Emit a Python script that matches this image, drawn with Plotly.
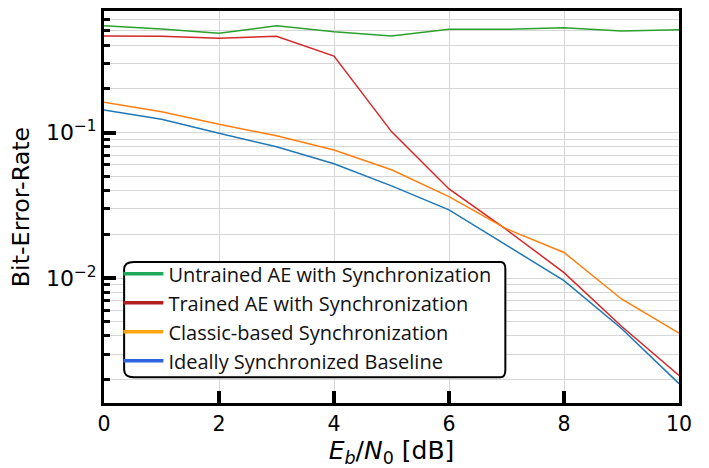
import plotly.graph_objects as go

ebn0 = [0, 1, 2, 3, 4, 5, 6, 7, 8, 9, 10]
untrained = [0.543, 0.515, 0.482, 0.543, 0.494, 0.461, 0.513, 0.513, 0.526, 0.500, 0.510]
trained = [0.461, 0.460, 0.445, 0.460, 0.336, 0.1016, 0.041, 0.0215, 0.0109, 0.00466, 0.00214]
classic = [0.162, 0.139, 0.114, 0.095, 0.076, 0.0555, 0.0363, 0.0218, 0.0150, 0.00718, 0.00419]
ideal = [0.143, 0.1236, 0.099, 0.080, 0.061, 0.043, 0.0294, 0.0168, 0.0096, 0.0045, 0.00188]

names = ["Untrained AE with Synchronization", "Trained AE with Synchronization",
         "Classic-based Synchronization", "Ideally Synchronized Baseline"]
series = [untrained, trained, classic, ideal]
line_colors = ["#2ca02c", "#d62728", "#ff7f0e", "#1f77b4"]
legend_colors = ["#1ea85a", "#b01e1e", "#ffa510", "#2f63e0"]

y_major = [0.1, 0.01]
y_major_text = ["10<sup>\u22121</sup>", "10<sup>\u22122</sup>"]
y_minor = [m * d for d in (0.001, 0.01, 0.1) for m in range(2, 10)]
x_ticks = [0, 2, 4, 6, 8, 10]

fig = go.Figure()
for name, ys, c in zip(names, series, line_colors):
    fig.add_trace(go.Scatter(x=ebn0, y=ys, mode="lines", line=dict(color=c, width=1.5),
                             showlegend=False, name=name))
for name, c in zip(names, legend_colors):
    fig.add_trace(go.Scatter(x=[None], y=[None], mode="lines", line=dict(color=c, width=3.5),
                             name=name, showlegend=True))

font_main = "DejaVu Sans"

fig.update_layout(
    width=709, height=468,
    margin=dict(l=104, r=30, t=11, b=65),
    paper_bgcolor="white", plot_bgcolor="white",
    showlegend=True,
    legend=dict(x=0.025, y=0.058, xanchor="left", yanchor="bottom",
                bgcolor="rgba(0,0,0,0)", borderwidth=0,
                font=dict(family="Open Sans", size=20, color="#111"),
                tracegroupgap=0, itemwidth=40),
    shapes=[dict(type="path", xref="paper", yref="paper", layer="above",
                 path="M 0.052,0.066 L 0.690,0.066 Q 0.698,0.066 0.698,0.085 L 0.698,0.341 "
                      "Q 0.698,0.360 0.690,0.360 L 0.052,0.360 Q 0.035,0.360 0.035,0.341 "
                      "L 0.035,0.085 Q 0.035,0.066 0.052,0.066 Z",
                 fillcolor="white", line=dict(color="black", width=2))],
)

fig.update_xaxes(
    range=[0, 10], tickvals=x_ticks, ticks="inside", ticklen=12, tickwidth=4,
    tickcolor="black", showline=True, linewidth=3, linecolor="black", mirror=True,
    showgrid=True, gridcolor="#d6d6d6", gridwidth=1, zeroline=False, automargin=False,
    tickfont=dict(family=font_main, size=20.5, color="black"),
    title=dict(text="<i>E</i><sub><i>b</i></sub>/<i>N</i><sub>0</sub> [dB]",
               font=dict(family=font_main, size=25, color="black"), standoff=11),
)
fig.update_yaxes(
    type="log", range=[-2.859, -0.164], tickvals=y_major, ticktext=y_major_text,
    ticks="inside", ticklen=12, tickwidth=4, tickcolor="black",
    showline=True, linewidth=3, linecolor="black", mirror=True, automargin=False,
    showgrid=True, gridcolor="#d6d6d6", gridwidth=1, zeroline=False,
    tickfont=dict(family=font_main, size=22, color="black"),
    minor=dict(tickvals=y_minor, ticks="inside", ticklen=6, tickwidth=2.5,
               tickcolor="black", showgrid=True, gridcolor="#d6d6d6", gridwidth=1),
    title=dict(text="Bit-Error-Rate", font=dict(family=font_main, size=23.8, color="black"),
               standoff=10),
)

fig.write_html("out.html", config={"displayModeBar": False},
               post_script="document.body.style.margin='0';")
